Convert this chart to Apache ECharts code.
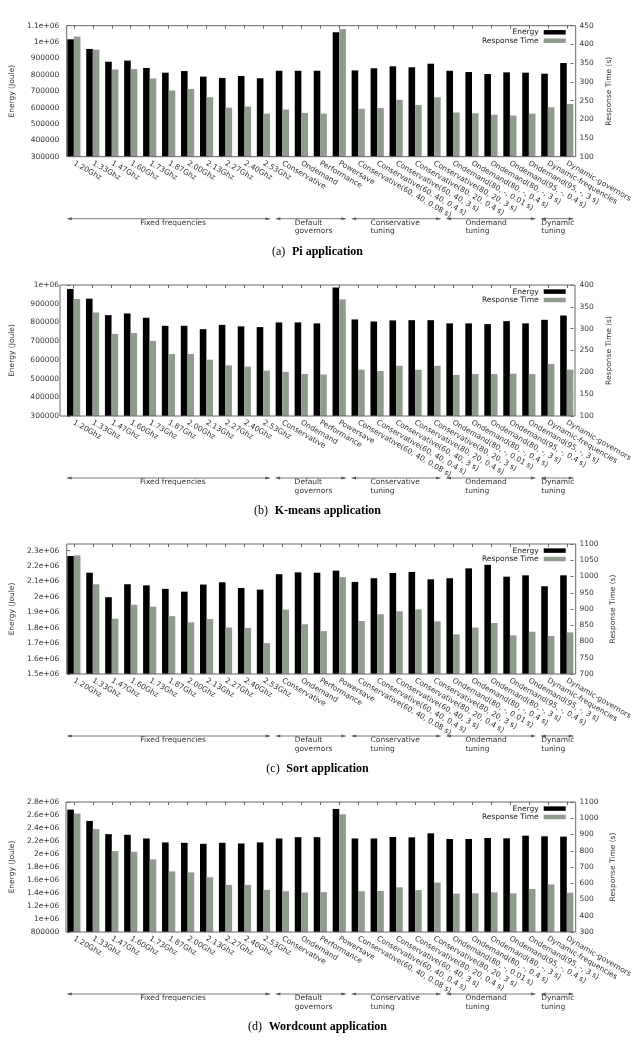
<!DOCTYPE html>
<html>
<head>
<meta charset="utf-8">
<title>Energy and response time</title>
<style>html,body{margin:0;padding:0;background:#fff}</style>
</head>
<body>
<div id="main" style="width:635px;height:1044px"></div>
<script src="https://cdn.jsdelivr.net/npm/echarts@6/dist/echarts.min.js"></script>
<script>
// categories shared by the four plots
var categories = ['1.20Ghz', '1.33Ghz', '1.47Ghz', '1.60Ghz', '1.73Ghz', '1.87Ghz', '2.00Ghz', '2.13Ghz',
    '2.27Ghz', '2.40Ghz', '2.53Ghz', 'Conservative', 'Ondemand', 'Performance', 'Powersave',
    'Conservative(60, 40, 0.08 s)', 'Conservative(60, 40, 0.4 s)', 'Conservative(60, 40, 3 s)',
    'Conservative(80, 20, 0.4 s)', 'Conservative(80, 20, 3 s)',
    'Ondemand(80, -, 0.01 s)', 'Ondemand(80, -, 0.4 s)', 'Ondemand(80, -, 3 s)',
    'Ondemand(95, -, 0.4 s)', 'Ondemand(95, -, 3 s)', 'Dynamic-frequencies', 'Dynamic-governors'];

// groups drawn under the labels
var groupNames = ['Fixed frequencies', 'Default\ngovernors', 'Conservative\ntuning', 'Ondemand\ntuning', 'Dynamic\ntuning'];
var groupFrom = [0, 11, 15, 20, 25];
var groupTo = [10, 14, 19, 24, 26];
var groupLabelAt = [3.85, 12, 16, 21, 25];

var captionTag = ['(a)', '(b)', '(c)', '(d)'];
var captionText = ['Pi application', 'K-means application', 'Sort application', 'Wordcount application'];

// energy (joule) and response time (s)
var energyPi = [1017000, 958000, 880000, 887000, 842000, 813000, 823000, 789000, 781000, 793000, 779000,
    825000, 825000, 825000, 1060000, 827000, 840000, 852000, 846000, 868000,
    825000, 817000, 805000, 815000, 813000, 807000, 872000];
var timePi = [421, 386, 333, 334, 309, 277, 281, 259, 231, 234, 215,
    226, 217, 215, 441, 228, 230, 252, 238, 259,
    218, 216, 212, 210, 215, 232, 241];

var energyKmeans = [979000, 927000, 839000, 848000, 825000, 782000, 782000, 764000, 787000, 779000, 775000,
    800000, 800000, 795000, 986000, 816000, 805000, 811000, 812000, 812000,
    795000, 795000, 791000, 807000, 795000, 814000, 837000];
var timeKmeans = [368, 337, 288, 290, 272, 242, 242, 229, 216, 213, 204,
    201, 196, 195, 367, 206, 203, 215, 206, 215,
    194, 196, 196, 197, 196, 219, 206];

var energySort = [2265000, 2157000, 1998000, 2082000, 2075000, 2052000, 2034000, 2080000, 2095000, 2058000, 2047000,
    2147000, 2159000, 2157000, 2170000, 2097000, 2121000, 2155000, 2162000, 2114000,
    2121000, 2185000, 2208000, 2131000, 2140000, 2069000, 2140000];
var timeSort = [1065, 976, 870, 913, 907, 878, 859, 869, 843, 842, 795,
    898, 853, 832, 998, 863, 884, 893, 899, 862,
    822, 843, 857, 819, 830, 817, 828];

var energyWc = [2683000, 2509000, 2305000, 2295000, 2239000, 2178000, 2172000, 2157000, 2172000, 2162000, 2178000,
    2239000, 2259000, 2259000, 2693000, 2239000, 2239000, 2262000, 2256000, 2318000,
    2231000, 2231000, 2246000, 2241000, 2282000, 2272000, 2267000];
var timeWc = [1029, 933, 798, 794, 747, 673, 667, 637, 590, 590, 559,
    551, 543, 545, 1024, 551, 553, 575, 558, 604,
    536, 538, 544, 538, 565, 593, 542];

// axis ranges: min, max, interval
var energyAxis = [[300000, 1100000, 100000], [300000, 1000000, 100000], [1500000, 2343000, 100000], [800000, 2800000, 200000]];
var timeAxis = [[100, 450, 50], [100, 400, 50], [700, 1100, 50], [300, 1100, 100]];

var energyData = [energyPi, energyKmeans, energySort, energyWc];
var timeData = [timePi, timeKmeans, timeSort, timeWc];

// plot frames in pixels
var frames = [
    {l: 66.7, r: 575.7, t: 25.7, b: 156.7},
    {l: 60, r: 575, t: 285, b: 416},
    {l: 66.7, r: 575.7, t: 544, b: 674},
    {l: 66, r: 575.7, t: 802, b: 932}
];
var W = 635, H = 1044;
var barW = 6.6;
var font = 'DejaVu Sans';
var black = '#000000', grey = '#8f9b8c';

function sci(v) {
    if (v >= 1e6) return parseFloat((v / 1e6).toPrecision(6)) + 'e+06';
    return String(Math.round(v));
}

// bars drawn from the axis floor; side -1 = left of the tick, +1 = right
function barRenderer(side, floor) {
    return function (params, api) {
        var i = api.value(0);
        var top = api.coord([i, api.value(1)]);
        var bot = api.coord([i, floor]);
        return {
            type: 'rect',
            shape: {x: side < 0 ? top[0] - barW : top[0], y: top[1], width: barW, height: bot[1] - top[1]},
            style: {fill: api.visual('color')}
        };
    };
}

var myChart = echarts.init(document.getElementById('main'), null, {renderer: 'canvas'});

var grid = [], xAxis = [], yAxis = [], series = [], legend = [];
frames.forEach(function (f, g) {
    grid.push({left: f.l + barW, right: W - (f.r - barW), top: f.t, bottom: H - f.b});
    xAxis.push({
        type: 'category', gridIndex: g, data: categories, boundaryGap: false,
        axisLine: {show: false}, axisTick: {show: false},
        axisLabel: {interval: 0, rotate: -30, fontSize: 7.5, fontFamily: font, color: '#333', margin: 6}
    });
    xAxis.push({
        type: 'category', gridIndex: g, data: categories, boundaryGap: false, position: 'top',
        axisLine: {show: false}, axisLabel: {show: false},
        axisTick: {show: true, inside: true, length: 3, interval: 0, lineStyle: {color: '#666'}}
    });
    var ea = energyAxis[g], ta = timeAxis[g];
    yAxis.push({
        type: 'value', gridIndex: g, position: 'left', offset: barW,
        min: ea[0], max: ea[1], interval: ea[2],
        name: 'Energy (Joule)', nameLocation: 'middle', nameGap: 51, nameRotate: 90,
        nameTextStyle: {fontSize: 7.5, fontFamily: font, color: '#333'},
        axisLine: {show: false}, splitLine: {show: false},
        axisTick: {show: true, inside: true, length: 3, lineStyle: {color: '#666'}},
        axisLabel: {fontSize: 7.5, fontFamily: font, color: '#333', margin: 8, showMaxLabel: g !== 2, formatter: sci}
    });
    yAxis.push({
        type: 'value', gridIndex: g, position: 'right', offset: barW,
        min: ta[0], max: ta[1], interval: ta[2],
        name: 'Response Time (s)', nameLocation: 'middle', nameGap: 28, nameRotate: 90,
        nameTextStyle: {fontSize: 7.5, fontFamily: font, color: '#333'},
        axisLine: {show: false}, splitLine: {show: false},
        axisTick: {show: true, inside: true, length: 3, lineStyle: {color: '#666'}},
        axisLabel: {fontSize: 7.5, fontFamily: font, color: '#333', margin: 6, formatter: function (v) { return String(v); }}
    });
    series.push({
        name: 'Energy', type: 'custom', xAxisIndex: 2 * g, yAxisIndex: 2 * g,
        data: energyData[g].map(function (v, i) { return [i, v]; }),
        encode: {x: 0, y: 1}, renderItem: barRenderer(-1, ea[0]),
        itemStyle: {color: black}
    });
    series.push({
        name: 'Response Time', type: 'custom', xAxisIndex: 2 * g, yAxisIndex: 2 * g + 1,
        data: timeData[g].map(function (v, i) { return [i, v]; }),
        encode: {x: 0, y: 1}, renderItem: barRenderer(1, ta[0]),
        itemStyle: {color: grey}
    });
    legend.push({
        data: ['Energy', 'Response Time'], orient: 'vertical', align: 'right',
        right: W - 565.7, top: f.t + 2.4, padding: 0, itemGap: 0,
        itemWidth: 22, itemHeight: 4.5, icon: 'rect', selectedMode: false,
        textStyle: {fontSize: 7.5, fontFamily: font, color: '#222', lineHeight: 8.4}
    });
});

myChart.setOption({
    animation: false,
    grid: grid, xAxis: xAxis, yAxis: yAxis, series: series, legend: legend
});

// frames, group arrows and captions
function px(g, i) { return myChart.convertToPixel({xAxisIndex: 2 * g}, i); }

var elems = [];
frames.forEach(function (f, g) {
    elems.push({
        type: 'rect', shape: {x: f.l, y: f.t, width: f.r - f.l, height: f.b - f.t},
        style: {fill: null, stroke: '#666', lineWidth: 1}, z: 10
    });
    var ay = f.b + 62;
    for (var k = 0; k < groupNames.length; k++) {
        var x0 = px(g, groupFrom[k]) - barW, x1 = px(g, groupTo[k]) + barW;
        elems.push({type: 'line', shape: {x1: x0, y1: ay, x2: x1, y2: ay}, style: {stroke: '#555', lineWidth: 0.8}});
        elems.push({type: 'polygon', shape: {points: [[x0, ay], [x0 + 4.5, ay - 1.5], [x0 + 4.5, ay + 1.5]]}, style: {fill: '#555'}});
        elems.push({type: 'polygon', shape: {points: [[x1, ay], [x1 - 4.5, ay - 1.5], [x1 - 4.5, ay + 1.5]]}, style: {fill: '#555'}});
        var at = groupLabelAt[k], i0 = Math.floor(at);
        var lx = px(g, i0) + (at - i0) * (px(g, i0 + 1) - px(g, i0)) - barW;
        elems.push({
            type: 'text', x: lx, y: ay,
            style: {text: groupNames[k], fill: '#333', font: '7.5px "' + font + '"', align: 'left', verticalAlign: 'top', lineHeight: 8.5}
        });
    }
    elems.push({
        type: 'text', x: 317.5, y: f.b + 95,
        style: {
            text: '{n|' + captionTag[g] + '}  {b|' + captionText[g] + '}',
            align: 'center', verticalAlign: 'middle',
            rich: {
                n: {fontFamily: 'Liberation Serif', fontSize: 12, fill: '#000'},
                b: {fontFamily: 'Liberation Serif', fontSize: 12, fontWeight: 'bold', fill: '#000'}
            }
        }
    });
});
myChart.setOption({graphic: elems});
</script>
</body>
</html>
